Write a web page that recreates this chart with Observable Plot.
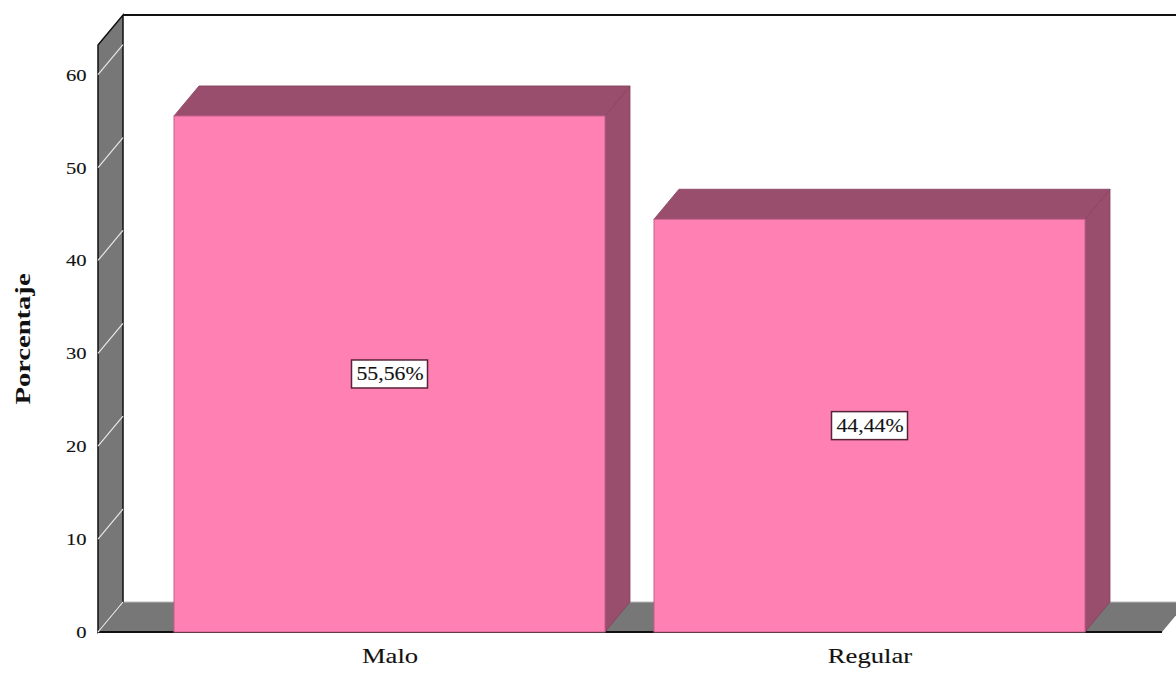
<!DOCTYPE html>
<html><head><meta charset="utf-8">
<script src="https://cdn.jsdelivr.net/npm/d3@7"></script>
<script src="https://cdn.jsdelivr.net/npm/@observablehq/plot@0.6"></script>
<style>body{margin:0;background:#fff;}</style>
</head><body><div id="chart"></div>
<script>
const categories = ["Malo", "Regular"];
const percents = [55.56, 44.44];
const valueLabels = ["55,56%", "44,44%"];
const yTicks = [0, 10, 20, 30, 40, 50, 60];
const yLabel = "Porcentaje";

const data = categories.map((c, i) => ({category: c, value: percents[i], label: valueLabels[i]}));

const DX = 25, DY = -30;
const FRONT = "#FF80B3", SIDE = "#9A4E6D", WALL = "#777777";
const FONT = "Liberation Serif, Times New Roman, serif";

const pts = (a) => a.map(p => p.join(",")).join(" ");

function backdrop(index, scales, values, dims) {
  const {x, y} = scales;
  const g = d3.create("svg:g");
  const [x0, x1] = x.range();
  const yb = y(0), yt = y(y.domain()[1]);
  g.append("line").attr("x1", x0 + DX).attr("y1", yt + DY).attr("x2", dims.width + 5).attr("y2", yt + DY)
    .attr("stroke", "#111").attr("stroke-width", 2);
  g.append("polygon").attr("points", pts([[x0, yb], [x1, yb], [x1 + DX, yb + DY], [x0 + DX, yb + DY]]))
    .attr("fill", WALL);
  g.append("line").attr("x1", x0).attr("y1", yb).attr("x2", x1).attr("y2", yb).attr("stroke", "#111").attr("stroke-width", 2);
  g.append("line").attr("x1", x0 + DX).attr("y1", yb + DY).attr("x2", x1 + DX).attr("y2", yb + DY).attr("stroke", "#bbb").attr("stroke-width", 1);
  g.append("polygon").attr("points", pts([[x0, yt], [x0 + DX, yt + DY], [x0 + DX, yb + DY], [x0, yb]]))
    .attr("fill", WALL).attr("stroke", "#111").attr("stroke-width", 1.5);
  for (const v of yTicks) {
    g.append("line").attr("x1", x0).attr("y1", y(v)).attr("x2", x0 + DX).attr("y2", y(v) + DY)
      .attr("stroke", "#e8e8e8").attr("stroke-width", 1.2);
  }
  return g.node();
}

function barDepth(index, scales) {
  const {x, y} = scales;
  const g = d3.create("svg:g");
  const bw = x.bandwidth();
  const yb = y(0);
  for (const d of data) {
    const xl = x(d.category), xr = xl + bw, yv = y(d.value);
    g.append("polygon").attr("points", pts([[xr, yb], [xr, yv], [xr + DX, yv + DY], [xr + DX, yb + DY]]))
      .attr("fill", SIDE).attr("stroke", "#84405c").attr("stroke-width", 0.8);
    g.append("polygon").attr("points", pts([[xl, yv], [xr, yv], [xr + DX, yv + DY], [xl + DX, yv + DY]]))
      .attr("fill", SIDE).attr("stroke", "#84405c").attr("stroke-width", 0.8);
  }
  return g.node();
}

function labelBoxes(index, scales) {
  const {x, y} = scales;
  const g = d3.create("svg:g");
  const bw = x.bandwidth();
  for (const d of data) {
    const cx = x(d.category) + bw / 2, cy = y(d.value / 2);
    g.append("rect").attr("x", cx - 38).attr("y", cy - 14).attr("width", 76).attr("height", 28)
      .attr("fill", "#fff").attr("stroke", "#5a2236").attr("stroke-width", 1.5);
  }
  return g.node();
}

const chart = Plot.plot({
  width: 1176,
  height: 673,
  marginLeft: 98,
  marginRight: 14,
  marginTop: 45,
  marginBottom: 41,
  style: {fontFamily: FONT, background: "#fff", color: "#111"},
  x: {domain: categories, paddingInner: 0.102, paddingOuter: 0.159, align: 0.5},
  y: {domain: [0, 63.2]},
  marks: [
    backdrop,
    barDepth,
    Plot.barY(data, {x: "category", y: "value", fill: FRONT, stroke: "#c0608a", strokeWidth: 1}),
    labelBoxes,
    Plot.text(data, {x: "category", y: d => d.value / 2, text: "label", fontSize: 18, fontFamily: FONT, fill: "#111"}),
    Plot.axisY(yTicks, {tickSize: 0, tickPadding: 12, fontSize: 17, fontFamily: FONT, label: null}),
    Plot.axisX({tickSize: 0, tickPadding: 15, fontSize: 22, fontFamily: FONT, label: null}),
    Plot.text([yLabel], {frameAnchor: "left", textAnchor: "middle", dx: -75, rotate: -90, fontSize: 21, fontWeight: "bold", fontFamily: FONT, fill: "#111"})
  ]
});

document.getElementById("chart").append(chart);

d3.select(chart).selectAll("text").each(function () {
  const L = this.getComputedTextLength();
  if (!L) return;
  const f = this.textContent === yLabel ? 1.36 : 1.21;
  this.setAttribute("textLength", L * f);
  this.setAttribute("lengthAdjust", "spacingAndGlyphs");
  if (this.textContent !== yLabel) {
    this.style.stroke = "#222";
    this.style.strokeWidth = "0.12px";
  }
});
</script>
</body></html>
